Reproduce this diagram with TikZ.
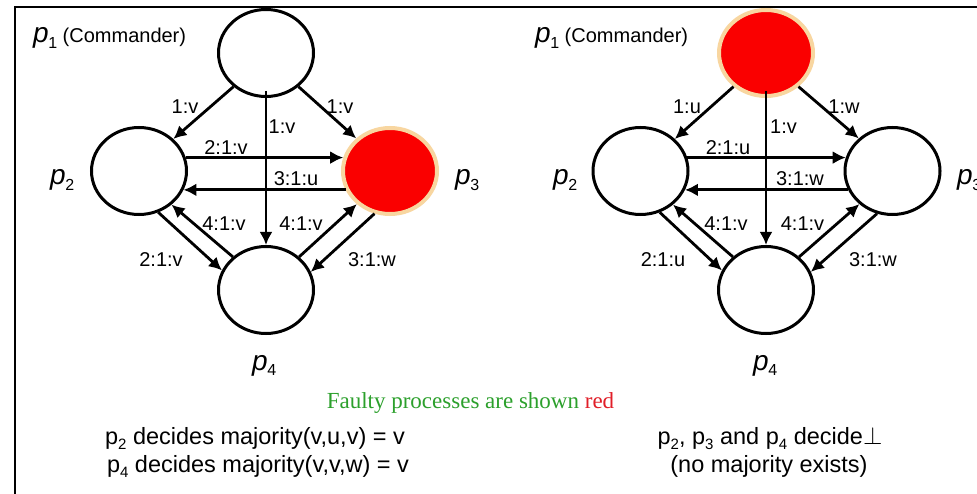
\documentclass[tikz,border=0pt]{standalone}
\usepackage{fontspec}
\setmainfont{Liberation Sans}
\newfontfamily\tms{Liberation Serif}
\usetikzlibrary{shapes.geometric,arrows.meta}
\definecolor{glow}{RGB}{248,214,160}
\definecolor{fgreen}{RGB}{44,160,44}
\definecolor{fred}{RGB}{225,30,40}
\definecolor{pred}{RGB}{250,0,0}
\newcommand\mysub[2]{\kern-0.5pt\raisebox{-0.2em}{\fontsize{#1}{#1}\selectfont\upshape #2}}
\newcommand\plab[1]{\fontsize{28}{30}\selectfont\itshape p\mysub{16}{#1}}
\newcommand\bsub[1]{\raisebox{-0.22em}{\fontsize{15}{15}\selectfont #1}}
\begin{document}
\begin{tikzpicture}[x=1pt,y=-1pt,
 proc/.style={ellipse, draw=black, line width=3pt, minimum width=95pt, minimum height=87pt, inner sep=0pt},
 faulty/.style={ellipse, draw=glow, line width=4pt, fill=pred, minimum width=94pt, minimum height=86pt, inner sep=0pt},
 msg/.style={line width=2.8pt, -{Latex[length=13pt,width=13pt]}},
 lbl/.style={font=\fontsize{20}{22}\selectfont, inner sep=0pt},
 plbl/.style={inner sep=0pt, anchor=base west},
 note/.style={font=\fontsize{23.5}{25}\selectfont, inner sep=0pt, anchor=base}
]
\useasboundingbox (0,0) rectangle (977,494);
\fill[white] (0,0) rectangle (977,494);
\draw[line width=2.8pt] (15,494) -- (15,7) -- (977,7);

% ---------- left diagram ----------
\node[proc]   (a1) at (266,53)  {};
\node[proc]   (a2) at (139,171) {};
\node[faulty] (a3) at (390,171) {};
\node[proc]   (a4) at (266,290) {};

\node[plbl] (ta1) at (33,43) {\plab{1}\upshape\fontsize{20}{22}\selectfont\ (Commander)};
\node[plbl] (ta2) at (50,185) {\plab{2}};
\node[plbl] (ta3) at (455,185) {\plab{3}};
\node[plbl] (ta4) at (252,370) {\plab{4}};

\draw[msg] (a1.226) -- (a2.43);
\draw[msg] (a1.314) -- (a3.136);
\draw[msg] ([yshift=7pt]a1.south) -- (a4.north);
\draw[msg] (a2.16) -- (a3.164);
\draw[msg] (a3.203) -- (a2.337);
\draw[msg] (a2.295) -- (a4.156);
\draw[msg] (a4.135) -- (a2.314);
\draw[msg] (a4.45) -- (a3.225);
\draw[msg] (a3.250) -- (a4.22);

\node[lbl] (la1) at (185,107) {1:v};
\node[lbl] (la2) at (340,107) {1:v};
\node[lbl] (la3) at (282,127) {1:v};
\node[lbl] (la4) at (226,148) {2:1:v};
\node[lbl] (la5) at (296,179) {3:1:u};
\node[lbl] (la6) at (224,224) {4:1:v};
\node[lbl] (la7) at (301,224) {4:1:v};
\node[lbl] (la8) at (161,260) {2:1:v};
\node[lbl] (la9) at (372,260) {3:1:w};

% ---------- right diagram ----------
\node[faulty] (b1) at (766,53)  {};
\node[proc]   (b2) at (640.5,171) {};
\node[proc]   (b3) at (892.5,171) {};
\node[proc]   (b4) at (766,290) {};

\node[plbl] (tb1) at (535,43) {\plab{1}\upshape\fontsize{20}{22}\selectfont\ (Commander)};
\node[plbl] (tb2) at (553,185) {\plab{2}};
\node[plbl] (tb3) at (957,185) {\plab{3}};
\node[plbl] (tb4) at (753,370) {\plab{4}};

\draw[msg] (b1.226) -- (b2.43);
\draw[msg] (b1.314) -- (b3.136);
\draw[msg] ([yshift=7pt]b1.south) -- (b4.north);
\draw[msg] (b2.16) -- (b3.164);
\draw[msg] (b3.203) -- (b2.337);
\draw[msg] (b2.295) -- (b4.156);
\draw[msg] (b4.135) -- (b2.314);
\draw[msg] (b4.45) -- (b3.225);
\draw[msg] (b3.250) -- (b4.22);

\node[lbl] (lb1) at (687,107) {1:u};
\node[lbl] (lb2) at (844,107) {1:w};
\node[lbl] (lb3) at (783.5,127) {1:v};
\node[lbl] (lb4) at (728,148) {2:1:u};
\node[lbl] (lb5) at (800,179) {3:1:w};
\node[lbl] (lb6) at (726,224) {4:1:v};
\node[lbl] (lb7) at (802.5,224) {4:1:v};
\node[lbl] (lb8) at (663,260) {2:1:u};
\node[lbl] (lb9) at (873,260) {3:1:w};

% ---------- texts ----------
\node[inner sep=0pt, anchor=base, font=\tms\fontsize{23}{25}\selectfont] (faulty) at (470.5,408)
  {\textcolor{fgreen}{Faulty processes are shown} \textcolor{fred}{red}};
\node[note] (n1) at (255,444) {p\bsub{2} decides majority(v,u,v) = v};
\node[note] (n2) at (258,472) {p\bsub{4} decides majority(v,v,w) = v};
\node[note] (n3) at (770,444) {p\bsub{2}, p\bsub{3} and p\bsub{4} decide$\perp$};
\node[note] (n4) at (769,472) {(no majority exists)};
\end{tikzpicture}
\end{document}
